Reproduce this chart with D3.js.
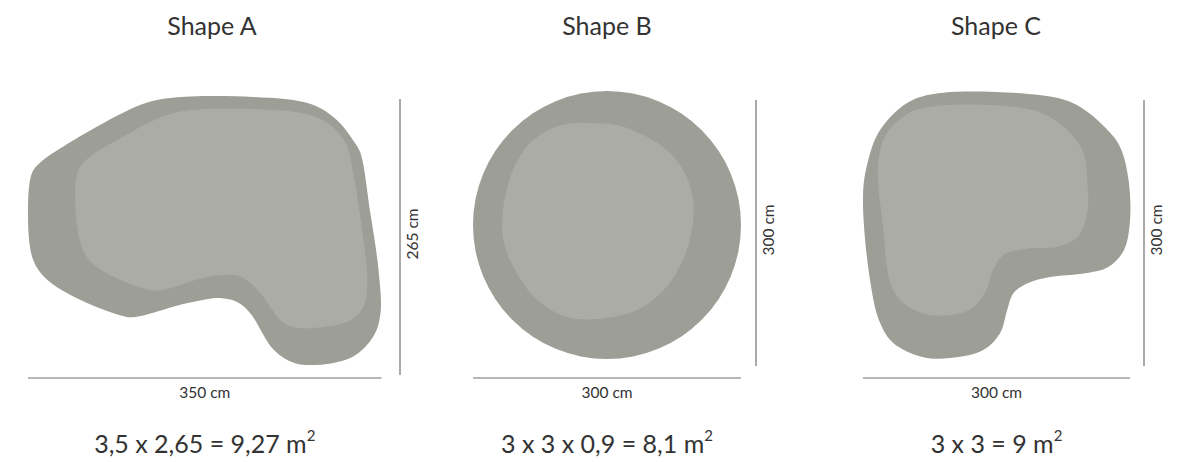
<!DOCTYPE html>
<html>
<head>
<meta charset="utf-8">
<script src="https://cdn.jsdelivr.net/npm/d3@7"></script>
<style>
  body { margin: 0; background: #fff; }
  text { font-family: Lato, "Open Sans", sans-serif; fill: #333; }
</style>
</head>
<body>
<svg width="1189" height="462"></svg>
<script>
// Shape data (outlines in cm, origin top-left of the bounding box)
const names = ["Shape A", "Shape B", "Shape C"];
const widthsCm = [350, 300, 300];
const heightsCm = [265, 300, 300];
const areaFormulas = ["3,5 x 2,65 = 9,27 m", "3 x 3 x 0,9 = 8,1 m", "3 x 3 = 9 m"];

const outerA = [[111,8],[141,1],[223,0],[280,7],[306,23],[322,43],[329,55],[339,115],[347,171],[349,214],
  [342,237],[322,257],[290,265],[263,263],[243,250],[220,214],[207,203],[190,199],[158,204],[104,218],
  [91,216],[52,201],[19,181],[5,161],[0,115],[4,75],[12,65],[35,49]];
const innerA = [[144,16],[223,12],[280,18],[302,30],[316,49],[322,75],[332,141],[336,181],[332,208],[319,221],
  [290,228],[263,228],[250,221],[230,194],[213,179],[200,176],[174,179],[134,191],[121,191],[91,181],
  [62,163],[52,144],[47,109],[49,75],[58,62],[91,41]];
const innerB = [[134,36],[161,38],[190,49],[217,66],[235,88],[246,119],[245,156],[235,189],[217,219],[184,245],
  [142,255],[105,253],[72,234],[49,204],[34,167],[34,130],[45,88],[64,58],[90,41],[112,36]];
const outerC = [[87,1],[210,5],[241,15],[275,43],[289,62],[298,96],[300,144],[293,178],[275,197],[248,204],
  [210,208],[185,215],[169,226],[162,245],[154,271],[135,290],[98,299],[68,298],[34,282],[19,259],
  [8,212],[0,118],[5,80],[19,43],[50,12]];
const innerC = [[90,15],[180,18],[210,28],[233,46],[248,69],[252,99],[252,136],[241,163],[218,174],[185,176],
  [158,183],[146,200],[140,219],[124,242],[95,251],[68,249],[42,234],[30,212],[23,156],[17,80],
  [27,46],[53,23]];

const outlines = [[outerA, innerA], [null, innerB], [outerC, innerC]];

// Layout of each panel
const panels = [
  { left: 28,  top: 97, k: 1.01,   titleX: 212, vx: 400,  vTop: 99,  vBottom: 375 },
  { left: 473, top: 91, k: 0.8933, titleX: 607, vx: 756,  vTop: 100, vBottom: 366 },
  { left: 863, top: 92, k: 0.89,   titleX: 996, vx: 1144, vTop: 100, vBottom: 366 }
];
const hLineY = 378;

const svg = d3.select("svg");
const outerColor = "#9d9e96";
const innerColor = "#abada5";
const lineColor = "#707070";

panels.forEach((p, i) => {
  const w = widthsCm[i], h = heightsCm[i];
  const x = d3.scaleLinear().domain([0, w]).range([p.left, p.left + w * p.k]);
  const y = d3.scaleLinear().domain([0, h]).range([p.top, p.top + h * p.k]);
  const g = svg.append("g");

  const line = d3.line()
    .x(d => x(d[0]))
    .y(d => y(d[1]))
    .curve(d3.curveCatmullRomClosed.alpha(0.5));

  const [outer, inner] = outlines[i];
  if (outer) {
    g.append("path").attr("d", line(outer)).attr("fill", outerColor);
  } else {
    // round rug
    g.append("circle")
      .attr("cx", x(w / 2)).attr("cy", y(h / 2))
      .attr("r", x(w / 2) - x(0))
      .attr("fill", outerColor);
  }
  g.append("path").attr("d", line(inner)).attr("fill", innerColor);

  // Title
  svg.append("text")
    .attr("x", p.titleX).attr("y", 35)
    .attr("text-anchor", "middle")
    .attr("font-size", 25)
    .text(names[i]);

  // Horizontal dimension
  g.append("line")
    .attr("x1", x(0)).attr("x2", x(w))
    .attr("y1", hLineY).attr("y2", hLineY)
    .attr("stroke", lineColor).attr("stroke-width", 1.2);
  g.append("text")
    .attr("x", (x(0) + x(w)) / 2).attr("y", 398)
    .attr("text-anchor", "middle")
    .attr("font-size", 15.5)
    .text(w + " cm");

  // Vertical dimension
  g.append("line")
    .attr("x1", p.vx).attr("x2", p.vx)
    .attr("y1", p.vTop).attr("y2", p.vBottom)
    .attr("stroke", lineColor).attr("stroke-width", 1.2);
  g.append("text")
    .attr("text-anchor", "middle")
    .attr("font-size", 15.5)
    .attr("transform", `translate(${p.vx + 18}, ${(p.vTop + p.vBottom) / 2 - 3})rotate(-90)`)
    .text(h + " cm");

  // Area formula
  const t = g.append("text")
    .attr("x", (x(0) + x(w)) / 2).attr("y", 453)
    .attr("text-anchor", "middle")
    .attr("font-size", 25);
  t.append("tspan").text(areaFormulas[i]);
  t.append("tspan").attr("font-size", 15).attr("dy", -12).text("2");
});
</script>
</body>
</html>
